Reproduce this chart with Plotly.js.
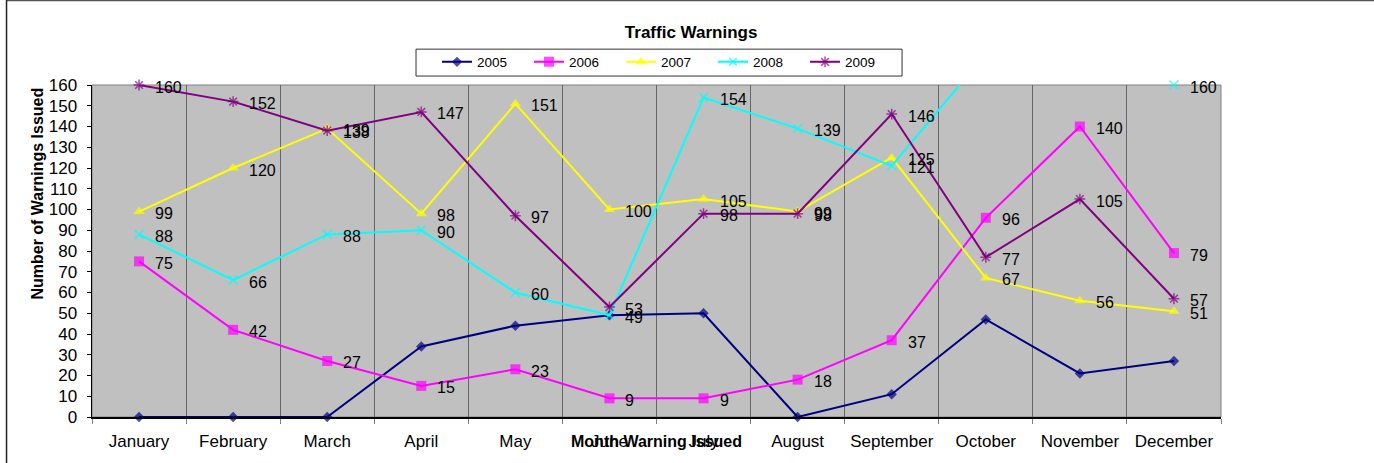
<!DOCTYPE html>
<html>
<head>
<meta charset="utf-8">
<script src="https://cdn.plot.ly/plotly-3.0.1.min.js"></script>
<style>
html,body{margin:0;padding:0;background:#fff;}
#chart{width:1374px;height:463px;}
</style>
</head>
<body>
<div id="chart"></div>
<script>
const months = ["January","February","March","April","May","June","July","August","September","October","November","December"];
const seriesNames = ["2005","2006","2007","2008","2009"];
const v2005 = [0,0,0,34,44,49,50,0,11,47,21,27];
const v2006 = [75,42,27,15,23,9,9,18,37,96,140,79];
const v2007 = [99,120,139,98,151,100,105,99,125,67,56,51];
const v2008 = [88,66,88,90,60,49,154,139,121,175,178,160];
const v2009 = [160,152,138,147,97,53,98,98,146,77,105,57];
const yTicks = [0,10,20,30,40,50,60,70,80,90,100,110,120,130,140,150,160];

const seriesValues = [v2005, v2006, v2007, v2008, v2009];
const colors = ["#000080","#FF00FF","#FFFF00","#00FFFF","#800080"];
const symbols = ["diamond","square","triangle-up","x-thin","asterisk"];
const sizes = [8,10,10,9,9];
const labeled = [false,true,true,true,true];
const yMax = 160;
const FONT = "Arial, 'Liberation Sans', sans-serif";

const traces = seriesValues.map((vals,i)=>({
  type:"scatter", mode:"lines+markers", name:seriesNames[i],
  x:months, y:vals,
  line:{color:colors[i], width:2},
  marker:{symbol:symbols[i], color:colors[i],
          size: vals.map(v => v>yMax ? 0 : sizes[i]),
          line:{color:colors[i], width:(symbols[i]==="x-thin"||symbols[i]==="asterisk")?1.5:0}},
  cliponaxis:false, hoverinfo:"skip"
}));

const annotations = [];
seriesValues.forEach((vals,i)=>{
  if(!labeled[i]) return;
  vals.forEach((v,j)=>{
    if(v>yMax) return;
    annotations.push({x:months[j], y:v, xref:"x", yref:"y", text:String(v),
      showarrow:false, xanchor:"left", yanchor:"middle", xshift:14, yshift:-2,
      font:{family:FONT, size:16, color:"#000"}});
  });
});
annotations.push({text:"Month Warning Issued", xref:"paper", yref:"paper", x:0.5, y:-0.0753,
  xanchor:"center", yanchor:"middle", showarrow:false,
  font:{family:FONT, size:16, color:"#000", weight:"bold"}});
annotations.push({text:"Number of Warnings Issued", xref:"paper", yref:"paper", x:-0.0478, y:0.673,
  xanchor:"center", yanchor:"middle", textangle:-90, showarrow:false,
  font:{family:FONT, size:16, color:"#000", weight:"bold"}});

const layout = {
  width:1374, height:463,
  margin:{l:92, r:153, t:85, b:46},
  paper_bgcolor:"#fff", plot_bgcolor:"#C0C0C0",
  font:{family:FONT, color:"#000"},
  title:{text:"<b>Traffic Warnings</b>", xref:"container", yref:"container", x:0.503, y:0.931,
         xanchor:"center", yanchor:"middle", font:{family:FONT, size:17, color:"#000"}},
  showlegend:true,
  legend:{orientation:"h", x:0.3056, y:1.069, xanchor:"left", yanchor:"middle",
          bgcolor:"rgba(0,0,0,0)", borderwidth:0,
          entrywidth:47, entrywidthmode:"pixels", tracegroupgap:0,
          font:{family:FONT, size:13.5, color:"#000"}, traceorder:"normal"},
  xaxis:{type:"category", categoryorder:"array", categoryarray:months,
         range:[-0.5, 11.5], autorange:false, tickangle:0,
         tickson:"boundaries", showgrid:true, gridcolor:"#666", gridwidth:1,
         showline:true, linecolor:"#000", linewidth:1.5,
         ticks:"outside", ticklen:5, tickcolor:"#808080",
         ticklabelstandoff:8,
         tickfont:{family:FONT, size:17, color:"#000"}, zeroline:false, fixedrange:true},
  yaxis:{range:[0,yMax], tickmode:"array", tickvals:yTicks, ticktext:yTicks.map(String),
         showgrid:false, zeroline:false, showline:true, linecolor:"#000", linewidth:1.5,
         ticks:"outside", ticklen:4, tickcolor:"#000", ticklabelstandoff:6,
         tickfont:{family:FONT, size:17, color:"#000"}, fixedrange:true},
  annotations:annotations,
  shapes:[
    {type:"rect", xref:"paper", yref:"paper", x0:0, x1:1, y0:0, y1:1,
     line:{color:"#808080", width:1}, layer:"below"},
    {type:"rect", xref:"paper", yref:"paper", x0:0.287, x1:0.7175, y0:1.027, y1:1.108,
     fillcolor:"#fff", line:{color:"#333", width:1}, layer:"below"},
    {type:"line", xref:"paper", yref:"paper", x0:-0.0757, x1:1.14, y0:1.2545, y1:1.2545,
     line:{color:"#555", width:1.5}},
    {type:"line", xref:"paper", yref:"paper", x0:-0.0757, x1:-0.0757, y0:1.26, y1:-0.15,
     line:{color:"#222", width:1.5}}
  ]
};

Plotly.newPlot("chart", traces, layout, {displayModeBar:false, staticPlot:true});
</script>
</body>
</html>
